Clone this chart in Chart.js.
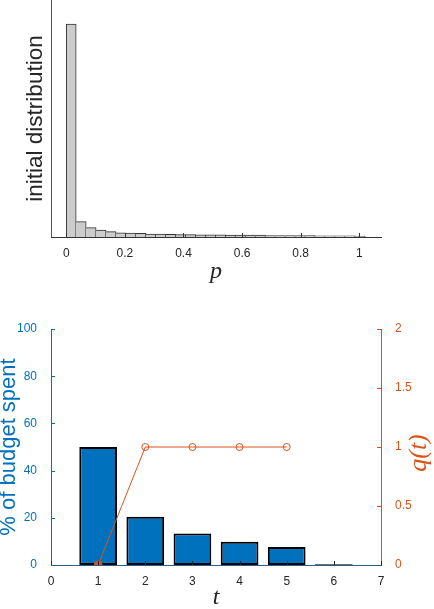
<!DOCTYPE html>
<html>
<head>
<meta charset="utf-8">
<script src="https://cdn.jsdelivr.net/npm/chart.js@4.4.1/dist/chart.umd.min.js"></script>
<style>
html, body { margin: 0; padding: 0; background: #fff; overflow: hidden; }
#wrap { position: relative; width: 434px; height: 609px; }
canvas { position: absolute; left: 0; }
#histChart { top: 0; }
#budgetChart { top: 300px; }
</style>
</head>
<body>
<div id="wrap">
  <canvas id="histChart" width="434" height="300"></canvas>
  <canvas id="budgetChart" width="434" height="309"></canvas>
</div>
<script>
// Histograma de la distribución inicial de p (30 bins)
const binCenters = [0.017, 0.051, 0.085, 0.119, 0.153, 0.187, 0.221, 0.255, 0.289, 0.323,
                    0.357, 0.391, 0.425, 0.459, 0.493, 0.527, 0.561, 0.595, 0.629, 0.663,
                    0.697, 0.731, 0.765, 0.799, 0.833, 0.867, 0.901, 0.935, 0.969, 1.003];
const initialDist = [0.710, 0.051, 0.031, 0.023, 0.018, 0.014, 0.013, 0.012, 0.010, 0.010,
                     0.009, 0.008, 0.008, 0.007, 0.007, 0.007, 0.006, 0.006, 0.006, 0.006,
                     0.005, 0.005, 0.005, 0.005, 0.005, 0.004, 0.004, 0.004, 0.004, 0.003];
const pTicks = [0, 0.2, 0.4, 0.6, 0.8, 1];

// Presupuesto gastado por paso y q(t)
const steps = [1, 2, 3, 4, 5, 6];
const budgetSpent = [50, 20.4, 13.3, 9.8, 7.6, 0.3];
const qSteps = [1, 2, 3, 4, 5];
const qValues = [0, 1, 1, 1, 1];
const tTicks = [0, 1, 2, 3, 4, 5, 6, 7];
const budgetTicks = [0, 20, 40, 60, 80, 100];
const qTicks = [0, 0.5, 1, 1.5, 2];

const BLUE = '#0072BD';
const ORANGE = '#D95319';
const DARK = '#262626';
const SANS = '"Liberation Sans", Arial, Helvetica, sans-serif';
const SERIF = '"Liberation Serif", "Times New Roman", serif';

// marcas de los ticks hacia dentro, estilo MATLAB
function inwardTicks(list) {
    return {
        id: 'inwardTicks',
        afterDatasetsDraw(chart) {
            const ctx = chart.ctx;
            const a = chart.chartArea;
            list.forEach(o => {
                const s = chart.scales[o.id];
                ctx.save();
                ctx.strokeStyle = o.color;
                ctx.lineWidth = 1;
                ctx.beginPath();
                s.ticks.forEach(t => {
                    const p = Math.round(s.getPixelForValue(t.value)) + 0.5;
                    if (s.isHorizontal()) {
                        ctx.moveTo(p, a.bottom);
                        ctx.lineTo(p, a.bottom - o.len);
                    } else if (s.position === 'left') {
                        ctx.moveTo(a.left, p);
                        ctx.lineTo(a.left + o.len, p);
                    } else {
                        ctx.moveTo(a.right, p);
                        ctx.lineTo(a.right - o.len, p);
                    }
                });
                ctx.stroke();
                ctx.restore();
            });
        }
    };
}

function fixedTicks(values) {
    return function(scale) {
        scale.ticks = values.map(v => ({ value: v }));
    };
}

// Gráfico superior: histograma
new Chart(document.getElementById('histChart'), {
    type: 'bar',
    data: {
        datasets: [{
            data: binCenters.map((x, i) => ({ x: x, y: initialDist[i] })),
            backgroundColor: '#CCCCCC',
            borderColor: '#333333',
            borderSkipped: false,
            borderWidth: ctx => ({ top: 1, right: 1, bottom: 0, left: ctx.dataIndex === 0 ? 1 : 0 }),
            barPercentage: 1,
            categoryPercentage: 1
        }]
    },
    options: {
        responsive: false,
        animation: false,
        layout: { padding: { top: 0, right: 53, bottom: 0, left: 0 } },
        plugins: { legend: { display: false }, tooltip: { enabled: false } },
        scales: {
            x: {
                type: 'linear',
                min: -0.052,
                max: 1.074,
                offset: false,
                afterBuildTicks: fixedTicks(pTicks),
                afterFit: s => { s.height = 63; },
                grid: { display: false },
                border: { display: true, color: '#333333', z: 1 },
                ticks: {
                    padding: 1,
                    color: DARK,
                    font: { family: SANS, size: 12 },
                    callback: v => String(v)
                },
                title: {
                    display: true,
                    text: 'p',
                    color: DARK,
                    font: { family: SERIF, size: 24, style: 'italic' },
                    padding: { top: 0, bottom: 14 }
                }
            },
            y: {
                min: 0,
                max: 0.79,
                afterFit: s => { s.width = 51; },
                grid: { display: false },
                border: { display: true, color: '#555555' },
                ticks: { display: false },
                title: {
                    display: true,
                    text: 'initial distribution',
                    color: DARK,
                    font: { family: SANS, size: 22.5 },
                    padding: { top: 22, bottom: 0 }
                }
            }
        }
    },
    plugins: [inwardTicks([{ id: 'x', len: 4, color: '#333333' }])]
});

// etiqueta q(t) del eje derecho, girada como en MATLAB
const qLabel = {
    id: 'qLabel',
    afterDraw(chart) {
        const { ctx, chartArea } = chart;
        ctx.save();
        ctx.translate(chartArea.right + 38, (chartArea.top + chartArea.bottom) / 2 + 6);
        ctx.rotate(-Math.PI / 2);
        ctx.font = 'italic 26px ' + SERIF;
        ctx.fillStyle = ORANGE;
        ctx.textAlign = 'center';
        ctx.textBaseline = 'middle';
        ctx.fillText('q(t)', 0, 0);
        ctx.restore();
    }
};

// Gráfico inferior: % del presupuesto gastado y q(t)
new Chart(document.getElementById('budgetChart'), {
    type: 'bar',
    data: {
        datasets: [
            {
                type: 'line',
                data: qSteps.map((x, i) => ({ x: x, y: qValues[i] })),
                yAxisID: 'y2',
                order: 0,
                clip: 0,
                borderColor: ORANGE,
                borderWidth: 1,
                pointRadius: [4, 3.5, 3.5, 3.5, 3.5],
                pointBorderWidth: 1,
                pointBorderColor: ORANGE,
                pointBackgroundColor: [ORANGE, 'rgba(0,0,0,0)', 'rgba(0,0,0,0)', 'rgba(0,0,0,0)', 'rgba(0,0,0,0)']
            },
            {
                data: steps.map((x, i) => ({ x: x, y: budgetSpent[i] })),
                yAxisID: 'y',
                order: 1,
                backgroundColor: BLUE,
                borderColor: '#000000',
                borderWidth: 2,
                borderSkipped: false,
                barPercentage: 0.8,
                categoryPercentage: 1
            }
        ]
    },
    options: {
        responsive: false,
        animation: false,
        layout: { padding: { top: 29, right: 0, bottom: 0, left: 0 } },
        plugins: { legend: { display: false }, tooltip: { enabled: false } },
        scales: {
            x: {
                type: 'linear',
                min: 0,
                max: 7,
                offset: false,
                afterBuildTicks: fixedTicks(tTicks),
                afterFit: s => { s.height = 44; },
                grid: { display: false },
                border: { display: true, color: '#2b5f8a', z: 1 },
                ticks: {
                    padding: 1,
                    color: DARK,
                    font: { family: SANS, size: 12 },
                    callback: v => String(v)
                },
                title: {
                    display: true,
                    text: 't',
                    color: DARK,
                    font: { family: SERIF, size: 24, style: 'italic' },
                    padding: { top: 0, bottom: -3 }
                }
            },
            y: {
                position: 'left',
                min: 0,
                max: 100,
                afterBuildTicks: fixedTicks(budgetTicks),
                afterFit: s => { s.width = 51; },
                grid: { display: false },
                border: { display: true, color: BLUE },
                ticks: {
                    padding: 6,
                    color: BLUE,
                    font: { family: SANS, size: 12 }
                },
                title: {
                    display: true,
                    text: '% of budget spent',
                    color: BLUE,
                    font: { family: SANS, size: 22, lineHeight: 1 },
                    padding: { top: -2.5, bottom: 0 }
                }
            },
            y2: {
                position: 'right',
                min: 0,
                max: 2,
                afterBuildTicks: fixedTicks(qTicks),
                afterFit: s => { s.width = 53; },
                grid: { display: false },
                border: { display: true, color: ORANGE },
                ticks: {
                    padding: 6,
                    color: ORANGE,
                    font: { family: SANS, size: 12 },
                    callback: v => String(v)
                }
            }
        }
    },
    plugins: [
        inwardTicks([
            { id: 'x', len: 4, color: DARK },
            { id: 'y', len: 4, color: BLUE },
            { id: 'y2', len: 4, color: ORANGE }
        ]),
        qLabel
    ]
});
</script>
</body>
</html>
